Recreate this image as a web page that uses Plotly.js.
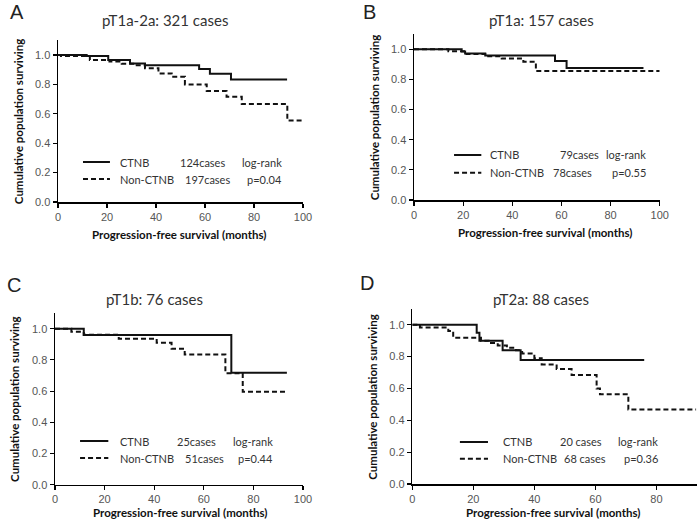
<!DOCTYPE html>
<html>
<head>
<meta charset="utf-8">
<script src="https://cdn.plot.ly/plotly-3.0.1.min.js"></script>
<style>html,body{margin:0;padding:0;background:#fff}#chart{width:697px;height:524px}</style>
</head>
<body>
<div id="chart"></div>
<script>
// ---- data ----
const panelLetters = ["A", "B", "C", "D"];
const panelTitles = ["pT1a-2a: 321 cases", "pT1a: 157 cases", "pT1b: 76 cases", "pT2a: 88 cases"];
const groupNames = ["CTNB", "Non-CTNB"];
const caseCountsCTNB = ["124cases", "79cases", "25cases", "20 cases"];
const caseCountsNon = ["197cases", "78cases", "51cases", "68 cases"];
const pValues = ["p=0.04", "p=0.55", "p=0.44", "p=0.36"];
const testLabel = "log-rank";

const aTimeCTNB = [0, 11.7, 20.5, 29.4, 35.5, 57.6, 62.0, 70.6, 93.5];
const aSurvCTNB = [1.0, 0.993, 0.966, 0.943, 0.930, 0.905, 0.872, 0.833, 0.833];
const aTimeNon = [0, 1.2, 13.0, 21.0, 26.0, 31.4, 35.5, 41.0, 46.4, 51.8, 60.7, 68.8, 75.0, 93.6, 99.5];
const aSurvNon = [1.0, 0.993, 0.966, 0.955, 0.940, 0.930, 0.910, 0.875, 0.852, 0.800, 0.755, 0.716, 0.666, 0.555, 0.555];

const bTimeCTNB = [0, 19.4, 20.8, 29.0, 57.4, 62.1, 93.4];
const bSurvCTNB = [1.0, 0.985, 0.972, 0.960, 0.922, 0.877, 0.877];
const bTimeNon = [0, 14.0, 20.8, 29.0, 35.7, 44.5, 49.6, 100];
const bSurvNon = [1.0, 0.987, 0.970, 0.955, 0.940, 0.918, 0.856, 0.856];

const cTimeCTNB = [0, 11.6, 71.1, 93.5];
const cSurvCTNB = [1.0, 0.960, 0.718, 0.718];
const cTimeNon = [0, 6.6, 11.6, 25.7, 41.0, 47.0, 52.3, 68.7, 75.7, 93.5];
const cSurvNon = [1.0, 0.980, 0.962, 0.936, 0.910, 0.872, 0.835, 0.715, 0.596, 0.596];

const dTimeCTNB = [0, 21.1, 22.0, 29.6, 35.5, 76.0];
const dSurvCTNB = [1.0, 0.950, 0.900, 0.840, 0.778, 0.778];
const dTimeNon = [0, 2.5, 11.8, 13.4, 22.5, 25.0, 28.0, 31.0, 34.0, 36.0, 40.0, 42.4, 47.3, 52.2, 60.4, 61.5, 70.8, 93.0];
const dSurvNon = [1.0, 0.983, 0.960, 0.918, 0.900, 0.885, 0.870, 0.855, 0.840, 0.820, 0.790, 0.751, 0.722, 0.684, 0.600, 0.563, 0.467, 0.467];

const xTickVals = [0, 20, 40, 60, 80, 100];
const yTickVals = [0, 0.2, 0.4, 0.6, 0.8, 1.0];

// ---- layout helpers (pixel placement) ----
const W = 697, H = 524;
const px = x => x / W;
const py = y => 1 - y / H;

const series = [
  [aTimeCTNB, aSurvCTNB, aTimeNon, aSurvNon],
  [bTimeCTNB, bSurvCTNB, bTimeNon, bSurvNon],
  [cTimeCTNB, cSurvCTNB, cTimeNon, cSurvNon],
  [dTimeCTNB, dSurvCTNB, dTimeNon, dSurvNon]
];

// plot-area geometry in pixels
const geom = [
  {x0: 58, x1: 303, yb: 202, yt: 40.3, xmax: 100, letter: [8, 12.5], title: [165, 20], xt: [179, 234]},
  {x0: 414, x1: 659.7, yb: 200, yt: 34.3, xmax: 100, letter: [361, 12.5], title: [541, 20], xt: [545, 233]},
  {x0: 55, x1: 303, yb: 484.7, yt: 313.1, xmax: 100, letter: [5, 284.5], title: [154, 299], xt: [180, 512]},
  {x0: 412.3, x1: 697, yb: 484, yt: 308.8, xmax: 93.3, letter: [358, 283], title: [541, 299], xt: [553, 512]}
];
// legend placement in axis units
const leg = [
  {s0: 10.2, s1: 21.2, y1: 0.272, y2: 0.156, gx: 24.5, c1: 49.0, c2: 51.0, rx: 92.2},
  {s0: 16.3, s1: 27.4, y1: 0.299, y2: 0.181, gx: 30.1, c1: 58.6, c2: 55.9, rx: 95.2},
  {s0: 10.1, s1: 21.5, y1: 0.280, y2: 0.171, gx: 25.5, c1: 48.4, c2: 51.7, rx: 88.7},
  {s0: 15.6, s1: 24.8, y1: 0.264, y2: 0.159, gx: 29.0, c1: 47.7, c2: 49.1, rx: 81.1}
];

const lineColor = "#111111";
const dashPattern = "5px,3px";
const textFont = "Lato, 'Noto Sans', sans-serif";
const tickFont = {family: "'Liberation Sans', Arial, sans-serif", size: 11, color: "#555555"};

const traces = [];
const layout = {
  width: W, height: H,
  margin: {l: 0, r: 0, t: 0, b: 0},
  paper_bgcolor: "#ffffff", plot_bgcolor: "#ffffff",
  showlegend: false,
  annotations: [], shapes: []
};

geom.forEach((g, i) => {
  const k = i === 0 ? "" : String(i + 1);
  const xa = "x" + k, ya = "y" + k;
  const [tc, sc, tn, sn] = series[i];
  traces.push({x: tc, y: sc, xaxis: xa, yaxis: ya, type: "scatter", mode: "lines",
    line: {shape: "hv", color: lineColor, width: 2}, name: groupNames[0], hoverinfo: "x+y"});
  traces.push({x: tn, y: sn, xaxis: xa, yaxis: ya, type: "scatter", mode: "lines",
    line: {shape: "hv", color: lineColor, width: 2, dash: dashPattern}, name: groupNames[1], hoverinfo: "x+y"});

  layout["xaxis" + k] = {
    domain: [px(g.x0), Math.min(1, px(g.x1))], range: [0, g.xmax], anchor: ya,
    showgrid: false, zeroline: false, showline: true, linecolor: "#000", linewidth: 1.5,
    ticks: "outside", ticklen: 4, tickcolor: "#000", tickwidth: 1.2,
    tickvals: xTickVals, tickfont: tickFont, fixedrange: true
  };
  layout["yaxis" + k] = {
    domain: [py(g.yb), py(g.yt)], range: [0, 1.1], anchor: xa,
    showgrid: false, zeroline: false, showline: true, linecolor: "#000", linewidth: 1.5,
    ticks: "outside", ticklen: 4, tickcolor: "#000", tickwidth: 1.2,
    tickvals: yTickVals, tickformat: ".1f", tickfont: tickFont, fixedrange: true
  };

  const A = layout.annotations;
  A.push({xref: "paper", yref: "paper", x: px(g.letter[0]), y: py(g.letter[1]), xanchor: "left", yanchor: "middle",
    text: panelLetters[i], showarrow: false, font: {family: "'Liberation Sans', Arial, sans-serif", size: 20, color: "#222"}});
  A.push({xref: "paper", yref: "paper", x: px(g.title[0]), y: py(g.title[1]), xanchor: "center", yanchor: "middle",
    text: panelTitles[i], showarrow: false, font: {family: textFont, size: 15, color: "#333"}});
  A.push({xref: "paper", yref: "paper", x: px(g.xt[0]), y: py(g.xt[1]), xanchor: "center", yanchor: "middle",
    text: "<b>Progression-free survival (months)</b>", showarrow: false, font: {family: textFont, size: 11.5, color: "#111"}});
  A.push({xref: "paper", yref: "paper", x: px(g.x0 - 40), y: py((g.yb + g.yt) / 2 + 1), xanchor: "center", yanchor: "middle",
    textangle: -90, text: "<b>Cumulative population surviving</b>", showarrow: false, font: {family: textFont, size: 11.5, color: "#111"}});

  const L = leg[i];
  const lf = {family: textFont, size: 11, color: "#333"};
  layout.shapes.push({type: "line", xref: xa, yref: ya, x0: L.s0, x1: L.s1, y0: L.y1, y1: L.y1, line: {color: lineColor, width: 2}});
  layout.shapes.push({type: "line", xref: xa, yref: ya, x0: L.s0, x1: L.s1, y0: L.y2, y1: L.y2, line: {color: lineColor, width: 2, dash: dashPattern}});
  A.push({xref: xa, yref: ya, x: L.gx, y: L.y1, xanchor: "left", yanchor: "middle", text: groupNames[0], showarrow: false, font: lf});
  A.push({xref: xa, yref: ya, x: L.gx, y: L.y2, xanchor: "left", yanchor: "middle", text: groupNames[1], showarrow: false, font: lf});
  A.push({xref: xa, yref: ya, x: L.c1, y: L.y1, xanchor: "left", yanchor: "middle", text: caseCountsCTNB[i], showarrow: false, font: lf});
  A.push({xref: xa, yref: ya, x: L.c2, y: L.y2, xanchor: "left", yanchor: "middle", text: caseCountsNon[i], showarrow: false, font: lf});
  A.push({xref: xa, yref: ya, x: L.rx, y: L.y1, xanchor: "right", yanchor: "middle", text: testLabel, showarrow: false, font: lf});
  A.push({xref: xa, yref: ya, x: L.rx, y: L.y2, xanchor: "right", yanchor: "middle", text: pValues[i], showarrow: false, font: lf});
});

Plotly.newPlot("chart", traces, layout, {displayModeBar: false, staticPlot: true});
</script>
</body>
</html>
